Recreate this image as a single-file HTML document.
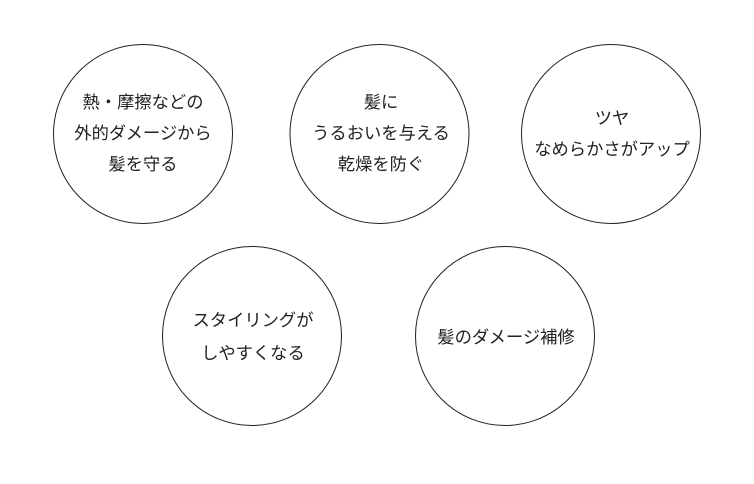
<!DOCTYPE html>
<html><head><meta charset="utf-8"><style>
body{margin:0;width:754px;height:479px;background:#fff;overflow:hidden}
</style></head><body>
<svg width="754" height="479" xmlns="http://www.w3.org/2000/svg" font-family="'Liberation Sans','Noto Sans CJK JP',sans-serif" font-size="17.3" fill="#222" text-anchor="middle">
<g fill="none" stroke="#222" stroke-width="1">
<circle cx="143" cy="134" r="89.5"/>
<circle cx="379.5" cy="134" r="89.5"/>
<circle cx="611" cy="134" r="89.5"/>
<circle cx="252" cy="336" r="89.5"/>
<circle cx="505" cy="336" r="89.5"/>
</g>
<text x="143" y="108">熱・摩擦などの</text>
<text x="143" y="139">外的ダメージから</text>
<text x="143" y="170">髪を守る</text>
<text x="381" y="108">髪に</text>
<text x="381" y="139">うるおいを与える</text>
<text x="381" y="170">乾燥を防ぐ</text>
<text x="612" y="124">ツヤ</text>
<text x="612" y="155">なめらかさがアップ</text>
<text x="253" y="326">スタイリングが</text>
<text x="253" y="359">しやすくなる</text>
<text x="506" y="343">髪のダメージ補修</text>
</svg>
</body></html>
